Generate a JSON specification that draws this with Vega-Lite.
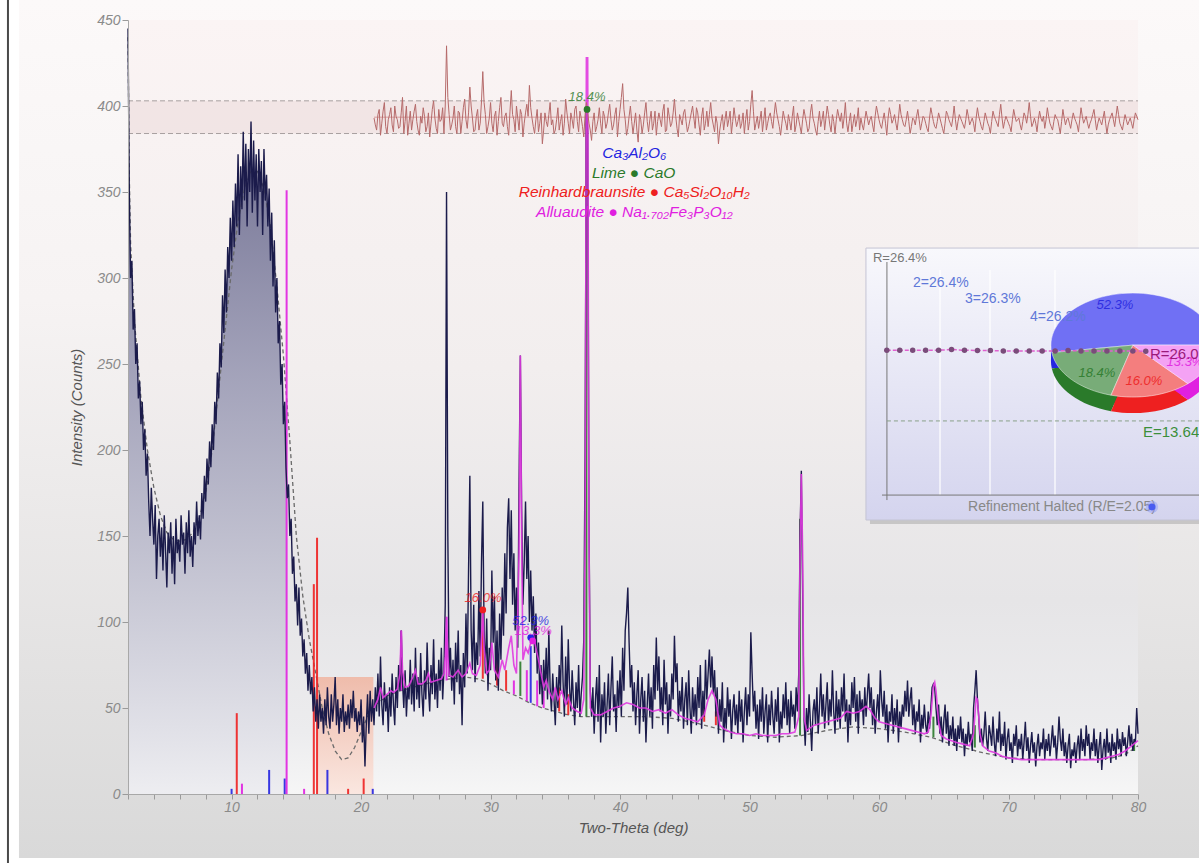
{
"$schema":"https://vega.github.io/schema/vega-lite/v6.json",
"width":1010,"height":774,
"autosize":{"type":"none"},
"padding":{"left":128,"top":20,"right":61,"bottom":69},
"background":"#ffffff",
"config":{"view":{"stroke":null},"font":"Liberation Sans","axis":{"grid":false}},
"datasets":{
"obs":[
{"t":2.0,"i":445},{"t":2.1,"i":350},{"t":2.2,"i":300},{"t":2.3,"i":310},{"t":2.4,"i":270},{"t":2.5,"i":282},{"t":2.6,"i":250},{"t":2.7,"i":262},{"t":2.8,"i":230},{"t":2.9,"i":240},
{"t":3.0,"i":215},{"t":3.1,"i":228},{"t":3.2,"i":200},{"t":3.3,"i":212},{"t":3.4,"i":185},{"t":3.5,"i":198},{"t":3.6,"i":170},{"t":3.7,"i":150},{"t":3.8,"i":178},{"t":3.9,"i":160},
{"t":4.0,"i":145},{"t":4.1,"i":168},{"t":4.2,"i":125},{"t":4.3,"i":150},{"t":4.4,"i":160},{"t":4.5,"i":138},{"t":4.6,"i":155},{"t":4.7,"i":130},{"t":4.8,"i":162},{"t":4.9,"i":142},
{"t":5.0,"i":120},{"t":5.1,"i":152},{"t":5.2,"i":140},{"t":5.3,"i":158},{"t":5.4,"i":128},{"t":5.5,"i":150},{"t":5.6,"i":122},{"t":5.7,"i":160},{"t":5.8,"i":140},{"t":5.9,"i":148},
{"t":6.0,"i":135},{"t":6.1,"i":162},{"t":6.2,"i":145},{"t":6.3,"i":152},{"t":6.4,"i":128},{"t":6.5,"i":158},{"t":6.6,"i":140},{"t":6.7,"i":165},{"t":6.8,"i":138},{"t":6.9,"i":150},
{"t":7.0,"i":132},{"t":7.1,"i":158},{"t":7.2,"i":145},{"t":7.3,"i":170},{"t":7.4,"i":150},{"t":7.5,"i":162},{"t":7.6,"i":148},{"t":7.7,"i":175},{"t":7.8,"i":160},{"t":7.9,"i":185},
{"t":8.0,"i":170},{"t":8.1,"i":195},{"t":8.2,"i":180},{"t":8.3,"i":205},{"t":8.4,"i":190},{"t":8.5,"i":215},{"t":8.6,"i":200},{"t":8.7,"i":228},{"t":8.8,"i":215},{"t":8.9,"i":245},
{"t":9.0,"i":230},{"t":9.1,"i":262},{"t":9.2,"i":248},{"t":9.3,"i":290},{"t":9.4,"i":268},{"t":9.5,"i":305},{"t":9.6,"i":280},{"t":9.7,"i":318},{"t":9.8,"i":300},{"t":9.9,"i":335},
{"t":10.0,"i":310},{"t":10.1,"i":345},{"t":10.2,"i":318},{"t":10.3,"i":355},{"t":10.4,"i":330},{"t":10.5,"i":372},{"t":10.6,"i":325},{"t":10.7,"i":365},{"t":10.8,"i":340},{"t":10.9,"i":385},
{"t":11.0,"i":345},{"t":11.1,"i":378},{"t":11.2,"i":330},{"t":11.3,"i":375},{"t":11.4,"i":350},{"t":11.5,"i":391},{"t":11.6,"i":338},{"t":11.7,"i":380},{"t":11.8,"i":345},{"t":11.9,"i":372},
{"t":12.0,"i":330},{"t":12.1,"i":375},{"t":12.2,"i":350},{"t":12.3,"i":368},{"t":12.4,"i":325},{"t":12.5,"i":375},{"t":12.6,"i":345},{"t":12.7,"i":360},{"t":12.8,"i":330},{"t":12.9,"i":352},
{"t":13.0,"i":310},{"t":13.1,"i":338},{"t":13.2,"i":295},{"t":13.3,"i":322},{"t":13.4,"i":280},{"t":13.5,"i":300},{"t":13.6,"i":262},{"t":13.7,"i":275},{"t":13.8,"i":238},{"t":13.9,"i":250},
{"t":14.0,"i":215},{"t":14.1,"i":228},{"t":14.2,"i":190},{"t":14.3,"i":172},{"t":14.4,"i":180},{"t":14.5,"i":150},{"t":14.6,"i":160},{"t":14.7,"i":128},{"t":14.8,"i":138},{"t":14.9,"i":112},
{"t":15.0,"i":122},{"t":15.1,"i":98},{"t":15.2,"i":120},{"t":15.3,"i":92},{"t":15.4,"i":102},{"t":15.5,"i":80},{"t":15.6,"i":90},{"t":15.7,"i":70},{"t":15.8,"i":82},{"t":15.9,"i":60},
{"t":16.0,"i":75},{"t":16.1,"i":58},{"t":16.2,"i":68},{"t":16.3,"i":48},{"t":16.4,"i":62},{"t":16.5,"i":42},{"t":16.6,"i":55},{"t":16.7,"i":38},{"t":16.8,"i":58},{"t":16.9,"i":42},
{"t":17.0,"i":50},{"t":17.1,"i":35},{"t":17.2,"i":55},{"t":17.3,"i":40},{"t":17.4,"i":62},{"t":17.5,"i":45},{"t":17.6,"i":38},{"t":17.7,"i":58},{"t":17.8,"i":42},{"t":17.9,"i":52},
{"t":18.0,"i":68},{"t":18.1,"i":40},{"t":18.2,"i":55},{"t":18.3,"i":35},{"t":18.4,"i":50},{"t":18.5,"i":42},{"t":18.6,"i":58},{"t":18.7,"i":36},{"t":18.8,"i":48},{"t":18.9,"i":40},
{"t":19.0,"i":52},{"t":19.1,"i":38},{"t":19.2,"i":55},{"t":19.3,"i":44},{"t":19.4,"i":60},{"t":19.5,"i":42},{"t":19.6,"i":50},{"t":19.7,"i":36},{"t":19.8,"i":48},{"t":19.9,"i":40},
{"t":20.0,"i":55},{"t":20.1,"i":30},{"t":20.2,"i":45},{"t":20.3,"i":16},{"t":20.4,"i":40},{"t":20.5,"i":58},{"t":20.6,"i":35},{"t":20.7,"i":60},{"t":20.8,"i":42},{"t":20.9,"i":55},
{"t":21.0,"i":40},{"t":21.1,"i":62},{"t":21.2,"i":48},{"t":21.3,"i":70},{"t":21.4,"i":45},{"t":21.5,"i":80},{"t":21.6,"i":52},{"t":21.7,"i":40},{"t":21.8,"i":65},{"t":21.9,"i":48},
{"t":22.0,"i":58},{"t":22.1,"i":36},{"t":22.2,"i":62},{"t":22.3,"i":45},{"t":22.4,"i":70},{"t":22.5,"i":52},{"t":22.6,"i":40},{"t":22.7,"i":68},{"t":22.8,"i":50},{"t":22.9,"i":75},
{"t":23.0,"i":60},{"t":23.1,"i":95},{"t":23.2,"i":65},{"t":23.3,"i":50},{"t":23.4,"i":72},{"t":23.5,"i":45},{"t":23.6,"i":62},{"t":23.7,"i":55},{"t":23.8,"i":78},{"t":23.9,"i":52},
{"t":24.0,"i":70},{"t":24.1,"i":48},{"t":24.2,"i":85},{"t":24.3,"i":55},{"t":24.4,"i":68},{"t":24.5,"i":50},{"t":24.6,"i":82},{"t":24.7,"i":58},{"t":24.8,"i":45},{"t":24.9,"i":72},
{"t":25.0,"i":55},{"t":25.1,"i":88},{"t":25.2,"i":62},{"t":25.3,"i":48},{"t":25.4,"i":75},{"t":25.5,"i":58},{"t":25.6,"i":90},{"t":25.7,"i":55},{"t":25.8,"i":70},{"t":25.9,"i":50},
{"t":26.0,"i":78},{"t":26.1,"i":60},{"t":26.2,"i":85},{"t":26.3,"i":55},{"t":26.4,"i":72},{"t":26.5,"i":110},{"t":26.6,"i":350},{"t":26.7,"i":150},{"t":26.8,"i":68},{"t":26.9,"i":85},
{"t":27.0,"i":60},{"t":27.1,"i":78},{"t":27.2,"i":52},{"t":27.3,"i":88},{"t":27.4,"i":65},{"t":27.5,"i":95},{"t":27.6,"i":58},{"t":27.7,"i":75},{"t":27.8,"i":40},{"t":27.9,"i":82},
{"t":28.0,"i":62},{"t":28.1,"i":105},{"t":28.2,"i":70},{"t":28.3,"i":130},{"t":28.4,"i":185},{"t":28.5,"i":95},{"t":28.6,"i":72},{"t":28.7,"i":110},{"t":28.8,"i":65},{"t":28.9,"i":88},
{"t":29.0,"i":75},{"t":29.1,"i":118},{"t":29.2,"i":80},{"t":29.3,"i":135},{"t":29.4,"i":170},{"t":29.5,"i":95},{"t":29.6,"i":70},{"t":29.7,"i":102},{"t":29.8,"i":60},{"t":29.9,"i":85},
{"t":30.0,"i":72},{"t":30.1,"i":130},{"t":30.2,"i":88},{"t":30.3,"i":115},{"t":30.4,"i":66},{"t":30.5,"i":95},{"t":30.6,"i":60},{"t":30.7,"i":105},{"t":30.8,"i":78},{"t":30.9,"i":120},
{"t":31.0,"i":92},{"t":31.1,"i":140},{"t":31.2,"i":105},{"t":31.3,"i":155},{"t":31.4,"i":172},{"t":31.5,"i":125},{"t":31.6,"i":165},{"t":31.7,"i":110},{"t":31.8,"i":140},{"t":31.9,"i":95},
{"t":32.0,"i":120},{"t":32.1,"i":85},{"t":32.2,"i":180},{"t":32.3,"i":255},{"t":32.4,"i":165},{"t":32.5,"i":110},{"t":32.6,"i":135},{"t":32.7,"i":170},{"t":32.8,"i":125},{"t":32.9,"i":150},
{"t":33.0,"i":100},{"t":33.1,"i":130},{"t":33.2,"i":95},{"t":33.3,"i":115},{"t":33.4,"i":82},{"t":33.5,"i":105},{"t":33.6,"i":70},{"t":33.7,"i":88},{"t":33.8,"i":58},{"t":33.9,"i":75},
{"t":34.0,"i":52},{"t":34.1,"i":78},{"t":34.2,"i":60},{"t":34.3,"i":85},{"t":34.4,"i":55},{"t":34.5,"i":95},{"t":34.6,"i":62},{"t":34.7,"i":48},{"t":34.8,"i":70},{"t":34.9,"i":55},
{"t":35.0,"i":40},{"t":35.1,"i":68},{"t":35.2,"i":50},{"t":35.3,"i":75},{"t":35.4,"i":60},{"t":35.5,"i":98},{"t":35.6,"i":65},{"t":35.7,"i":45},{"t":35.8,"i":80},{"t":35.9,"i":52},
{"t":36.0,"i":90},{"t":36.1,"i":62},{"t":36.2,"i":48},{"t":36.3,"i":72},{"t":36.4,"i":55},{"t":36.5,"i":40},{"t":36.6,"i":65},{"t":36.7,"i":50},{"t":36.8,"i":75},{"t":36.9,"i":45},
{"t":37.0,"i":58},{"t":37.1,"i":68},{"t":37.2,"i":90},{"t":37.3,"i":200},{"t":37.4,"i":400},{"t":37.5,"i":385},{"t":37.6,"i":160},{"t":37.7,"i":60},{"t":37.8,"i":45},{"t":37.9,"i":62},
{"t":38.0,"i":35},{"t":38.1,"i":55},{"t":38.2,"i":68},{"t":38.3,"i":42},{"t":38.4,"i":75},{"t":38.5,"i":30},{"t":38.6,"i":58},{"t":38.7,"i":45},{"t":38.8,"i":65},{"t":38.9,"i":35},
{"t":39.0,"i":52},{"t":39.1,"i":70},{"t":39.2,"i":40},{"t":39.3,"i":62},{"t":39.4,"i":80},{"t":39.5,"i":48},{"t":39.6,"i":58},{"t":39.7,"i":36},{"t":39.8,"i":66},{"t":39.9,"i":50},
{"t":40.0,"i":72},{"t":40.1,"i":45},{"t":40.2,"i":85},{"t":40.3,"i":60},{"t":40.4,"i":95},{"t":40.5,"i":105},{"t":40.6,"i":120},{"t":40.7,"i":88},{"t":40.8,"i":62},{"t":40.9,"i":75},
{"t":41.0,"i":48},{"t":41.1,"i":65},{"t":41.2,"i":40},{"t":41.3,"i":58},{"t":41.4,"i":72},{"t":41.5,"i":35},{"t":41.6,"i":55},{"t":41.7,"i":68},{"t":41.8,"i":42},{"t":41.9,"i":60},
{"t":42.0,"i":30},{"t":42.1,"i":52},{"t":42.2,"i":70},{"t":42.3,"i":45},{"t":42.4,"i":62},{"t":42.5,"i":38},{"t":42.6,"i":75},{"t":42.7,"i":55},{"t":42.8,"i":91},{"t":42.9,"i":60},
{"t":43.0,"i":80},{"t":43.1,"i":48},{"t":43.2,"i":62},{"t":43.3,"i":40},{"t":43.4,"i":78},{"t":43.5,"i":52},{"t":43.6,"i":65},{"t":43.7,"i":35},{"t":43.8,"i":58},{"t":43.9,"i":45},
{"t":44.0,"i":70},{"t":44.1,"i":55},{"t":44.2,"i":92},{"t":44.3,"i":65},{"t":44.4,"i":76},{"t":44.5,"i":42},{"t":44.6,"i":60},{"t":44.7,"i":48},{"t":44.8,"i":68},{"t":44.9,"i":38},
{"t":45.0,"i":55},{"t":45.1,"i":65},{"t":45.2,"i":40},{"t":45.3,"i":72},{"t":45.4,"i":50},{"t":45.5,"i":35},{"t":45.6,"i":62},{"t":45.7,"i":45},{"t":45.8,"i":58},{"t":45.9,"i":40},
{"t":46.0,"i":68},{"t":46.1,"i":50},{"t":46.2,"i":75},{"t":46.3,"i":38},{"t":46.4,"i":60},{"t":46.5,"i":45},{"t":46.6,"i":78},{"t":46.7,"i":55},{"t":46.8,"i":70},{"t":46.9,"i":84},
{"t":47.0,"i":62},{"t":47.1,"i":80},{"t":47.2,"i":58},{"t":47.3,"i":72},{"t":47.4,"i":45},{"t":47.5,"i":62},{"t":47.6,"i":35},{"t":47.7,"i":55},{"t":47.8,"i":42},{"t":47.9,"i":65},
{"t":48.0,"i":30},{"t":48.1,"i":50},{"t":48.2,"i":38},{"t":48.3,"i":62},{"t":48.4,"i":45},{"t":48.5,"i":55},{"t":48.6,"i":32},{"t":48.7,"i":48},{"t":48.8,"i":58},{"t":48.9,"i":40},
{"t":49.0,"i":52},{"t":49.1,"i":35},{"t":49.2,"i":60},{"t":49.3,"i":42},{"t":49.4,"i":55},{"t":49.5,"i":30},{"t":49.6,"i":48},{"t":49.7,"i":62},{"t":49.8,"i":40},{"t":49.9,"i":58},
{"t":50.0,"i":45},{"t":50.1,"i":94},{"t":50.2,"i":70},{"t":50.3,"i":48},{"t":50.4,"i":60},{"t":50.5,"i":38},{"t":50.6,"i":52},{"t":50.7,"i":32},{"t":50.8,"i":55},{"t":50.9,"i":42},
{"t":51.0,"i":62},{"t":51.1,"i":35},{"t":51.2,"i":48},{"t":51.3,"i":58},{"t":51.4,"i":30},{"t":51.5,"i":52},{"t":51.6,"i":40},{"t":51.7,"i":60},{"t":51.8,"i":45},{"t":51.9,"i":35},
{"t":52.0,"i":55},{"t":52.1,"i":42},{"t":52.2,"i":62},{"t":52.3,"i":30},{"t":52.4,"i":48},{"t":52.5,"i":38},{"t":52.6,"i":58},{"t":52.7,"i":44},{"t":52.8,"i":65},{"t":52.9,"i":40},
{"t":53.0,"i":55},{"t":53.1,"i":35},{"t":53.2,"i":60},{"t":53.3,"i":45},{"t":53.4,"i":52},{"t":53.5,"i":38},{"t":53.6,"i":62},{"t":53.7,"i":48},{"t":53.8,"i":70},{"t":53.9,"i":150},
{"t":54.0,"i":188},{"t":54.1,"i":120},{"t":54.2,"i":45},{"t":54.3,"i":28},{"t":54.4,"i":50},{"t":54.5,"i":36},{"t":54.6,"i":58},{"t":54.7,"i":42},{"t":54.8,"i":25},{"t":54.9,"i":48},
{"t":55.0,"i":55},{"t":55.1,"i":40},{"t":55.2,"i":62},{"t":55.3,"i":35},{"t":55.4,"i":50},{"t":55.5,"i":70},{"t":55.6,"i":45},{"t":55.7,"i":58},{"t":55.8,"i":38},{"t":55.9,"i":52},
{"t":56.0,"i":65},{"t":56.1,"i":40},{"t":56.2,"i":55},{"t":56.3,"i":45},{"t":56.4,"i":72},{"t":56.5,"i":48},{"t":56.6,"i":35},{"t":56.7,"i":60},{"t":56.8,"i":42},{"t":56.9,"i":55},
{"t":57.0,"i":38},{"t":57.1,"i":62},{"t":57.2,"i":48},{"t":57.3,"i":70},{"t":57.4,"i":42},{"t":57.5,"i":55},{"t":57.6,"i":30},{"t":57.7,"i":52},{"t":57.8,"i":40},{"t":57.9,"i":65},
{"t":58.0,"i":50},{"t":58.1,"i":68},{"t":58.2,"i":42},{"t":58.3,"i":58},{"t":58.4,"i":35},{"t":58.5,"i":60},{"t":58.6,"i":48},{"t":58.7,"i":55},{"t":58.8,"i":40},{"t":58.9,"i":62},
{"t":59.0,"i":45},{"t":59.1,"i":58},{"t":59.2,"i":70},{"t":59.3,"i":50},{"t":59.4,"i":62},{"t":59.5,"i":40},{"t":59.6,"i":55},{"t":59.7,"i":35},{"t":59.8,"i":48},{"t":59.9,"i":58},
{"t":60.0,"i":42},{"t":60.1,"i":72},{"t":60.2,"i":55},{"t":60.3,"i":45},{"t":60.4,"i":60},{"t":60.5,"i":38},{"t":60.6,"i":52},{"t":60.7,"i":30},{"t":60.8,"i":48},{"t":60.9,"i":42},
{"t":61.0,"i":58},{"t":61.1,"i":35},{"t":61.2,"i":50},{"t":61.3,"i":40},{"t":61.4,"i":55},{"t":61.5,"i":30},{"t":61.6,"i":48},{"t":61.7,"i":38},{"t":61.8,"i":52},{"t":61.9,"i":45},
{"t":62.0,"i":60},{"t":62.1,"i":48},{"t":62.2,"i":66},{"t":62.3,"i":45},{"t":62.4,"i":55},{"t":62.5,"i":62},{"t":62.6,"i":40},{"t":62.7,"i":52},{"t":62.8,"i":35},{"t":62.9,"i":48},
{"t":63.0,"i":42},{"t":63.1,"i":55},{"t":63.2,"i":30},{"t":63.3,"i":46},{"t":63.4,"i":38},{"t":63.5,"i":52},{"t":63.6,"i":40},{"t":63.7,"i":35},{"t":63.8,"i":48},{"t":63.9,"i":38},
{"t":64.0,"i":50},{"t":64.1,"i":62},{"t":64.2,"i":64},{"t":64.3,"i":62},{"t":64.4,"i":50},{"t":64.5,"i":40},{"t":64.6,"i":52},{"t":64.7,"i":35},{"t":64.8,"i":45},{"t":64.9,"i":30},
{"t":65.0,"i":42},{"t":65.1,"i":52},{"t":65.2,"i":35},{"t":65.3,"i":48},{"t":65.4,"i":28},{"t":65.5,"i":40},{"t":65.6,"i":32},{"t":65.7,"i":45},{"t":65.8,"i":28},{"t":65.9,"i":38},
{"t":66.0,"i":25},{"t":66.1,"i":40},{"t":66.2,"i":32},{"t":66.3,"i":45},{"t":66.4,"i":30},{"t":66.5,"i":38},{"t":66.6,"i":22},{"t":66.7,"i":35},{"t":66.8,"i":28},{"t":66.9,"i":42},
{"t":67.0,"i":30},{"t":67.1,"i":35},{"t":67.2,"i":25},{"t":67.3,"i":50},{"t":67.4,"i":60},{"t":67.5,"i":72},{"t":67.6,"i":55},{"t":67.7,"i":45},{"t":67.8,"i":30},{"t":67.9,"i":38},
{"t":68.0,"i":28},{"t":68.1,"i":35},{"t":68.2,"i":48},{"t":68.3,"i":32},{"t":68.4,"i":25},{"t":68.5,"i":40},{"t":68.6,"i":35},{"t":68.7,"i":28},{"t":68.8,"i":45},{"t":68.9,"i":30},
{"t":69.0,"i":22},{"t":69.1,"i":38},{"t":69.2,"i":30},{"t":69.3,"i":48},{"t":69.4,"i":25},{"t":69.5,"i":35},{"t":69.6,"i":28},{"t":69.7,"i":42},{"t":69.8,"i":20},{"t":69.9,"i":32},
{"t":70.0,"i":38},{"t":70.1,"i":25},{"t":70.2,"i":30},{"t":70.3,"i":18},{"t":70.4,"i":35},{"t":70.5,"i":28},{"t":70.6,"i":40},{"t":70.7,"i":22},{"t":70.8,"i":32},{"t":70.9,"i":26},
{"t":71.0,"i":35},{"t":71.1,"i":20},{"t":71.2,"i":30},{"t":71.3,"i":42},{"t":71.4,"i":25},{"t":71.5,"i":33},{"t":71.6,"i":18},{"t":71.7,"i":28},{"t":71.8,"i":36},{"t":71.9,"i":24},
{"t":72.0,"i":30},{"t":72.1,"i":16},{"t":72.2,"i":28},{"t":72.3,"i":35},{"t":72.4,"i":22},{"t":72.5,"i":30},{"t":72.6,"i":26},{"t":72.7,"i":38},{"t":72.8,"i":20},{"t":72.9,"i":32},
{"t":73.0,"i":25},{"t":73.1,"i":35},{"t":73.2,"i":22},{"t":73.3,"i":30},{"t":73.4,"i":40},{"t":73.5,"i":27},{"t":73.6,"i":34},{"t":73.7,"i":20},{"t":73.8,"i":30},{"t":73.9,"i":45},
{"t":74.0,"i":32},{"t":74.1,"i":25},{"t":74.2,"i":38},{"t":74.3,"i":22},{"t":74.4,"i":30},{"t":74.5,"i":18},{"t":74.6,"i":28},{"t":74.7,"i":35},{"t":74.8,"i":15},{"t":74.9,"i":26},
{"t":75.0,"i":22},{"t":75.1,"i":30},{"t":75.2,"i":18},{"t":75.3,"i":28},{"t":75.4,"i":34},{"t":75.5,"i":20},{"t":75.6,"i":38},{"t":75.7,"i":25},{"t":75.8,"i":32},{"t":75.9,"i":22},
{"t":76.0,"i":40},{"t":76.1,"i":28},{"t":76.2,"i":35},{"t":76.3,"i":20},{"t":76.4,"i":30},{"t":76.5,"i":25},{"t":76.6,"i":38},{"t":76.7,"i":22},{"t":76.8,"i":32},{"t":76.9,"i":18},
{"t":77.0,"i":28},{"t":77.1,"i":36},{"t":77.2,"i":14},{"t":77.3,"i":26},{"t":77.4,"i":32},{"t":77.5,"i":20},{"t":77.6,"i":38},{"t":77.7,"i":24},{"t":77.8,"i":30},{"t":77.9,"i":18},
{"t":78.0,"i":35},{"t":78.1,"i":25},{"t":78.2,"i":30},{"t":78.3,"i":20},{"t":78.4,"i":38},{"t":78.5,"i":26},{"t":78.6,"i":32},{"t":78.7,"i":22},{"t":78.8,"i":36},{"t":78.9,"i":28},
{"t":79.0,"i":33},{"t":79.1,"i":22},{"t":79.2,"i":30},{"t":79.3,"i":40},{"t":79.4,"i":28},{"t":79.5,"i":35},{"t":79.6,"i":25},{"t":79.7,"i":32},{"t":79.8,"i":30},{"t":79.9,"i":50},
{"t":80.0,"i":35}
],
"calc":[
{"t":21.0,"i":50},{"t":21.3,"i":55},{"t":21.5,"i":62},{"t":21.7,"i":56},{"t":22.0,"i":58},{"t":22.3,"i":60},{"t":22.5,"i":59},{"t":22.8,"i":61},{"t":23.0,"i":70},{"t":23.1,"i":95},{"t":23.2,"i":72},{"t":23.4,"i":62},{"t":23.7,"i":63},{"t":24.0,"i":68},{"t":24.2,"i":72},{"t":24.4,"i":64},{"t":24.7,"i":64},{"t":25.0,"i":66},{"t":25.2,"i":70},{"t":25.4,"i":65},{"t":25.8,"i":66},{"t":26.2,"i":67},{"t":26.4,"i":70},{"t":26.5,"i":80},{"t":26.6,"i":103},{"t":26.7,"i":80},{"t":26.8,"i":69},{"t":27.1,"i":68},{"t":27.5,"i":72},{"t":27.8,"i":68},{"t":28.1,"i":70},{"t":28.4,"i":76},{"t":28.6,"i":70},{"t":28.9,"i":69},{"t":29.2,"i":75},{"t":29.4,"i":107},{"t":29.5,"i":85},{"t":29.7,"i":70},{"t":29.9,"i":72},{"t":30.1,"i":88},{"t":30.3,"i":72},{"t":30.6,"i":68},{"t":30.9,"i":78},{"t":31.1,"i":72},{"t":31.4,"i":85},{"t":31.6,"i":92},{"t":31.8,"i":75},{"t":32.0,"i":70},{"t":32.2,"i":140},{"t":32.3,"i":255},{"t":32.4,"i":150},{"t":32.5,"i":78},{"t":32.7,"i":85},{"t":32.9,"i":82},{"t":33.1,"i":88},{"t":33.3,"i":93},{"t":33.5,"i":85},{"t":33.7,"i":78},{"t":33.9,"i":70},{"t":34.1,"i":62},{"t":34.3,"i":66},{"t":34.5,"i":60},{"t":34.8,"i":55},{"t":35.0,"i":62},{"t":35.2,"i":55},{"t":35.5,"i":60},{"t":35.8,"i":52},{"t":36.0,"i":56},{"t":36.3,"i":50},{"t":36.7,"i":48},{"t":37.0,"i":47},{"t":37.2,"i":55},{"t":37.3,"i":150},{"t":37.4,"i":428},{"t":37.5,"i":428},{"t":37.6,"i":150},{"t":37.7,"i":50},{"t":38.0,"i":46},{"t":38.5,"i":46},{"t":39.0,"i":48},{"t":39.5,"i":50},{"t":40.0,"i":51},{"t":40.5,"i":53},{"t":41.0,"i":52},{"t":41.5,"i":50},{"t":42.0,"i":50},{"t":42.5,"i":48},{"t":43.0,"i":49},{"t":43.5,"i":47},{"t":44.0,"i":49},{"t":44.5,"i":46},{"t":45.0,"i":44},{"t":45.5,"i":43},{"t":46.0,"i":42},{"t":46.5,"i":46},{"t":46.8,"i":55},{"t":47.1,"i":60},{"t":47.4,"i":55},{"t":47.7,"i":40},{"t":48.0,"i":38},{"t":48.5,"i":36},{"t":49.0,"i":35},{"t":49.5,"i":35},{"t":50.0,"i":34},{"t":50.5,"i":35},{"t":51.0,"i":34},{"t":51.5,"i":34},{"t":52.0,"i":34},{"t":52.5,"i":35},{"t":53.0,"i":35},{"t":53.5,"i":36},{"t":53.8,"i":45},{"t":53.9,"i":140},{"t":54.0,"i":186},{"t":54.1,"i":140},{"t":54.2,"i":45},{"t":54.4,"i":37},{"t":55.0,"i":40},{"t":55.5,"i":41},{"t":56.0,"i":42},{"t":56.5,"i":43},{"t":57.0,"i":44},{"t":57.5,"i":48},{"t":58.0,"i":47},{"t":58.5,"i":48},{"t":59.0,"i":51},{"t":59.3,"i":49},{"t":59.7,"i":44},{"t":60.0,"i":42},{"t":60.5,"i":41},{"t":61.0,"i":40},{"t":61.5,"i":39},{"t":62.0,"i":38},{"t":62.5,"i":37},{"t":63.0,"i":36},{"t":63.5,"i":35},{"t":63.8,"i":36},{"t":64.0,"i":45},{"t":64.2,"i":63},{"t":64.3,"i":65},{"t":64.4,"i":60},{"t":64.6,"i":42},{"t":64.8,"i":34},{"t":65.2,"i":32},{"t":65.6,"i":31},{"t":66.0,"i":30},{"t":66.5,"i":29},{"t":67.0,"i":28},{"t":67.3,"i":35},{"t":67.5,"i":56},{"t":67.6,"i":55},{"t":67.8,"i":35},{"t":68.0,"i":28},{"t":68.5,"i":25},{"t":69.0,"i":24},{"t":69.5,"i":22},{"t":70.0,"i":21},{"t":71.0,"i":20},{"t":72.0,"i":20},{"t":73.0,"i":20},{"t":74.0,"i":20},{"t":75.0,"i":20},{"t":76.0,"i":20},{"t":77.0,"i":20},{"t":77.5,"i":21},{"t":78.0,"i":22},{"t":78.5,"i":23},{"t":79.0,"i":25},{"t":79.5,"i":28},{"t":80.0,"i":31}
],
"bg":[
{"t":2.0,"i":440},{"t":2.1,"i":360},{"t":2.2,"i":320},{"t":2.5,"i":275},{"t":3.0,"i":230},{"t":3.5,"i":200},{"t":4.0,"i":178},{"t":4.5,"i":162},{"t":5.0,"i":152},{"t":5.5,"i":148},{"t":6.0,"i":147},{"t":6.5,"i":148},{"t":7.0,"i":152},{"t":7.5,"i":160},{"t":8.0,"i":175},{"t":8.5,"i":200},{"t":9.0,"i":235},{"t":9.5,"i":270},{"t":10.0,"i":305},{"t":10.5,"i":333},{"t":11.0,"i":352},{"t":11.5,"i":362},{"t":12.0,"i":362},{"t":12.5,"i":352},{"t":13.0,"i":330},{"t":13.5,"i":295},{"t":14.0,"i":255},{"t":14.5,"i":205},{"t":15.0,"i":150},{"t":15.5,"i":115},{"t":16.0,"i":90},{"t":16.5,"i":70},{"t":17.0,"i":50},{"t":17.5,"i":35},{"t":18.0,"i":25},{"t":18.5,"i":20},{"t":19.0,"i":21},{"t":19.5,"i":27},{"t":20.0,"i":36},{"t":20.5,"i":45},{"t":21.0,"i":51},{"t":22.0,"i":57},{"t":23.0,"i":60},{"t":24.0,"i":62},{"t":25.0,"i":64},{"t":26.0,"i":66},{"t":27.0,"i":67},{"t":28.0,"i":68},{"t":29.0,"i":67},{"t":30.0,"i":64},{"t":31.0,"i":60},{"t":32.0,"i":57},{"t":33.0,"i":53},{"t":34.0,"i":50},{"t":35.0,"i":48},{"t":36.0,"i":46},{"t":37.0,"i":45},{"t":38.0,"i":45},{"t":40.0,"i":45},{"t":42.0,"i":45},{"t":44.0,"i":44},{"t":46.0,"i":41},{"t":48.0,"i":37},{"t":50.0,"i":34},{"t":52.0,"i":33},{"t":54.0,"i":34},{"t":56.0,"i":37},{"t":58.0,"i":39},{"t":60.0,"i":38},{"t":62.0,"i":36},{"t":64.0,"i":33},{"t":66.0,"i":28},{"t":68.0,"i":24},{"t":70.0,"i":21},{"t":72.0,"i":20},{"t":74.0,"i":20},{"t":76.0,"i":20},{"t":78.0,"i":21},{"t":79.0,"i":23},{"t":80.0,"i":28}
],
"diff":[
{"t":21.0,"i":393},{"t":21.2,"i":386},{"t":21.4,"i":398},{"t":21.6,"i":390},{"t":21.8,"i":402},{"t":22.0,"i":384},{"t":22.2,"i":395},{"t":22.4,"i":389},{"t":22.6,"i":400},{"t":22.8,"i":392},
{"t":23.0,"i":388},{"t":23.2,"i":405},{"t":23.4,"i":391},{"t":23.6,"i":383},{"t":23.8,"i":397},{"t":24.0,"i":392},{"t":24.2,"i":401},{"t":24.4,"i":386},{"t":24.6,"i":394},{"t":24.8,"i":399},
{"t":25.0,"i":385},{"t":25.2,"i":396},{"t":25.4,"i":390},{"t":25.6,"i":403},{"t":25.8,"i":387},{"t":26.0,"i":398},{"t":26.2,"i":392},{"t":26.4,"i":384},{"t":26.6,"i":435},{"t":26.8,"i":395},
{"t":27.0,"i":389},{"t":27.2,"i":400},{"t":27.4,"i":384},{"t":27.6,"i":396},{"t":27.8,"i":391},{"t":28.0,"i":404},{"t":28.2,"i":387},{"t":28.4,"i":411},{"t":28.6,"i":393},{"t":28.8,"i":386},
{"t":29.0,"i":398},{"t":29.2,"i":390},{"t":29.4,"i":420},{"t":29.6,"i":395},{"t":29.8,"i":388},{"t":30.0,"i":402},{"t":30.2,"i":385},{"t":30.4,"i":397},{"t":30.6,"i":391},{"t":30.8,"i":405},
{"t":31.0,"i":388},{"t":31.2,"i":396},{"t":31.4,"i":383},{"t":31.6,"i":409},{"t":31.8,"i":392},{"t":32.0,"i":400},{"t":32.2,"i":386},{"t":32.4,"i":395},{"t":32.6,"i":390},{"t":32.8,"i":401},
{"t":33.0,"i":412},{"t":33.2,"i":393},{"t":33.4,"i":384},{"t":33.6,"i":398},{"t":33.8,"i":390},{"t":34.0,"i":378},{"t":34.2,"i":396},{"t":34.4,"i":388},{"t":34.6,"i":402},{"t":34.8,"i":392},
{"t":35.0,"i":386},{"t":35.2,"i":399},{"t":35.4,"i":391},{"t":35.6,"i":383},{"t":35.8,"i":404},{"t":36.0,"i":390},{"t":36.2,"i":396},{"t":36.4,"i":387},{"t":36.6,"i":400},{"t":36.8,"i":385},
{"t":37.0,"i":393},{"t":37.2,"i":382},{"t":37.4,"i":402},{"t":37.6,"i":390},{"t":37.8,"i":380},{"t":38.0,"i":396},{"t":38.2,"i":388},{"t":38.4,"i":399},{"t":38.6,"i":384},{"t":38.8,"i":394},
{"t":39.0,"i":390},{"t":39.2,"i":401},{"t":39.4,"i":386},{"t":39.6,"i":395},{"t":39.8,"i":382},{"t":40.0,"i":398},{"t":40.2,"i":413},{"t":40.4,"i":392},{"t":40.6,"i":387},{"t":40.8,"i":400},
{"t":41.0,"i":384},{"t":41.2,"i":396},{"t":41.4,"i":379},{"t":41.6,"i":392},{"t":41.8,"i":389},{"t":42.0,"i":402},{"t":42.2,"i":385},{"t":42.4,"i":397},{"t":42.6,"i":390},{"t":42.8,"i":383},
{"t":43.0,"i":396},{"t":43.2,"i":388},{"t":43.4,"i":401},{"t":43.6,"i":386},{"t":43.8,"i":394},{"t":44.0,"i":390},{"t":44.2,"i":404},{"t":44.4,"i":387},{"t":44.6,"i":395},{"t":44.8,"i":389},
{"t":45.0,"i":398},{"t":45.2,"i":385},{"t":45.4,"i":392},{"t":45.6,"i":400},{"t":45.8,"i":387},{"t":46.0,"i":396},{"t":46.2,"i":383},{"t":46.4,"i":399},{"t":46.6,"i":390},{"t":46.8,"i":388},
{"t":47.0,"i":402},{"t":47.2,"i":389},{"t":47.4,"i":394},{"t":47.6,"i":378},{"t":47.8,"i":391},{"t":48.0,"i":386},{"t":48.2,"i":397},{"t":48.4,"i":392},{"t":48.6,"i":384},{"t":48.8,"i":399},
{"t":49.0,"i":388},{"t":49.2,"i":395},{"t":49.4,"i":390},{"t":49.6,"i":384},{"t":49.8,"i":398},{"t":50.0,"i":391},{"t":50.2,"i":409},{"t":50.4,"i":386},{"t":50.6,"i":394},{"t":50.8,"i":392},
{"t":51.0,"i":385},{"t":51.2,"i":399},{"t":51.4,"i":390},{"t":51.6,"i":396},{"t":51.8,"i":387},{"t":52.0,"i":402},{"t":52.2,"i":392},{"t":52.4,"i":383},{"t":52.6,"i":397},{"t":52.8,"i":390},
{"t":53.0,"i":395},{"t":53.2,"i":386},{"t":53.4,"i":400},{"t":53.6,"i":389},{"t":53.8,"i":392},{"t":54.0,"i":384},{"t":54.2,"i":398},{"t":54.4,"i":390},{"t":54.6,"i":387},{"t":54.8,"i":401},
{"t":55.0,"i":390},{"t":55.2,"i":383},{"t":55.4,"i":397},{"t":55.6,"i":392},{"t":55.8,"i":386},{"t":56.0,"i":400},{"t":56.2,"i":389},{"t":56.4,"i":395},{"t":56.6,"i":384},{"t":56.8,"i":398},
{"t":57.0,"i":391},{"t":57.2,"i":387},{"t":57.4,"i":402},{"t":57.6,"i":385},{"t":57.8,"i":396},{"t":58.0,"i":390},{"t":58.2,"i":388},{"t":58.4,"i":399},{"t":58.6,"i":393},{"t":58.8,"i":386},
{"t":59.0,"i":397},{"t":59.2,"i":389},{"t":59.4,"i":394},{"t":59.6,"i":385},{"t":59.8,"i":400},{"t":60.0,"i":392},{"t":60.2,"i":387},{"t":60.4,"i":396},{"t":60.6,"i":383},{"t":60.8,"i":399},
{"t":61.0,"i":390},{"t":61.2,"i":395},{"t":61.4,"i":386},{"t":61.6,"i":401},{"t":61.8,"i":392},{"t":62.0,"i":388},{"t":62.2,"i":397},{"t":62.4,"i":384},{"t":62.6,"i":393},{"t":62.8,"i":389},
{"t":63.0,"i":398},{"t":63.2,"i":386},{"t":63.4,"i":394},{"t":63.6,"i":390},{"t":63.8,"i":385},{"t":64.0,"i":399},{"t":64.2,"i":391},{"t":64.4,"i":387},{"t":64.6,"i":396},{"t":64.8,"i":390},
{"t":65.0,"i":384},{"t":65.2,"i":397},{"t":65.4,"i":392},{"t":65.6,"i":388},{"t":65.8,"i":400},{"t":66.0,"i":386},{"t":66.2,"i":395},{"t":66.4,"i":391},{"t":66.6,"i":387},{"t":66.8,"i":398},
{"t":67.0,"i":389},{"t":67.2,"i":393},{"t":67.4,"i":385},{"t":67.6,"i":399},{"t":67.8,"i":391},{"t":68.0,"i":386},{"t":68.2,"i":396},{"t":68.4,"i":390},{"t":68.6,"i":384},{"t":68.8,"i":397},
{"t":69.0,"i":392},{"t":69.2,"i":388},{"t":69.4,"i":401},{"t":69.6,"i":387},{"t":69.8,"i":394},{"t":70.0,"i":390},{"t":70.2,"i":385},{"t":70.4,"i":398},{"t":70.6,"i":391},{"t":70.8,"i":393},
{"t":71.0,"i":386},{"t":71.2,"i":396},{"t":71.4,"i":390},{"t":71.6,"i":402},{"t":71.8,"i":388},{"t":72.0,"i":393},{"t":72.2,"i":385},{"t":72.4,"i":397},{"t":72.6,"i":391},{"t":72.8,"i":387},
{"t":73.0,"i":399},{"t":73.2,"i":390},{"t":73.4,"i":386},{"t":73.6,"i":395},{"t":73.8,"i":392},{"t":74.0,"i":384},{"t":74.2,"i":398},{"t":74.4,"i":389},{"t":74.6,"i":393},{"t":74.8,"i":387},
{"t":75.0,"i":396},{"t":75.2,"i":391},{"t":75.4,"i":385},{"t":75.6,"i":399},{"t":75.8,"i":390},{"t":76.0,"i":394},{"t":76.2,"i":387},{"t":76.4,"i":392},{"t":76.6,"i":398},{"t":76.8,"i":386},
{"t":77.0,"i":393},{"t":77.2,"i":389},{"t":77.4,"i":397},{"t":77.6,"i":384},{"t":77.8,"i":392},{"t":78.0,"i":396},{"t":78.2,"i":388},{"t":78.4,"i":400},{"t":78.6,"i":390},{"t":78.8,"i":386},
{"t":79.0,"i":395},{"t":79.2,"i":389},{"t":79.4,"i":393},{"t":79.6,"i":387},{"t":79.8,"i":396},{"t":80.0,"i":392},
{"t":21.1,"i":389},{"t":21.3,"i":395},{"t":21.5,"i":383},{"t":21.7,"i":397},{"t":21.9,"i":388},{"t":22.1,"i":392},{"t":22.3,"i":399},{"t":22.5,"i":385},{"t":22.7,"i":394},{"t":22.9,"i":387},
{"t":23.1,"i":396},{"t":23.3,"i":384},{"t":23.5,"i":400},{"t":23.7,"i":390},{"t":23.9,"i":386},{"t":24.1,"i":397},{"t":24.3,"i":391},{"t":24.5,"i":383},{"t":24.7,"i":390},{"t":24.9,"i":394},
{"t":25.1,"i":388},{"t":25.3,"i":382},{"t":25.5,"i":398},{"t":25.7,"i":393},{"t":25.9,"i":384},{"t":26.1,"i":391},{"t":26.3,"i":399},{"t":26.5,"i":400},{"t":26.7,"i":405},{"t":26.9,"i":386},
{"t":27.1,"i":393},{"t":27.3,"i":388},{"t":27.5,"i":397},{"t":27.7,"i":384},{"t":27.9,"i":399},{"t":28.1,"i":392},{"t":28.3,"i":396},{"t":28.5,"i":400},{"t":28.7,"i":385},{"t":28.9,"i":394},
{"t":29.1,"i":386},{"t":29.3,"i":403},{"t":29.5,"i":402},{"t":29.7,"i":384},{"t":29.9,"i":393},{"t":30.1,"i":390},{"t":30.3,"i":394},{"t":30.5,"i":383},{"t":30.7,"i":399},{"t":30.9,"i":390},
{"t":31.1,"i":394},{"t":31.3,"i":388},{"t":31.5,"i":397},{"t":31.7,"i":395},{"t":31.9,"i":385},{"t":32.1,"i":393},{"t":32.3,"i":398},{"t":32.5,"i":382},{"t":32.7,"i":396},{"t":32.9,"i":394},
{"t":33.1,"i":399},{"t":33.3,"i":388},{"t":33.5,"i":392},{"t":33.7,"i":385},{"t":33.9,"i":396},{"t":34.1,"i":386},{"t":34.3,"i":391},{"t":34.5,"i":395},{"t":34.7,"i":389},{"t":34.9,"i":384},
{"t":35.1,"i":392},{"t":35.3,"i":386},{"t":35.5,"i":395},{"t":35.7,"i":390},{"t":35.9,"i":396},{"t":36.1,"i":384},{"t":36.3,"i":392},{"t":36.5,"i":398},{"t":36.7,"i":391},{"t":36.9,"i":397},
{"t":37.1,"i":388},{"t":37.3,"i":395},{"t":37.5,"i":396},{"t":37.7,"i":386},{"t":37.9,"i":391},{"t":38.1,"i":385},{"t":38.3,"i":392},{"t":38.5,"i":390},{"t":38.7,"i":397},{"t":38.9,"i":387},
{"t":39.1,"i":396},{"t":39.3,"i":392},{"t":39.5,"i":389},{"t":39.7,"i":399},{"t":39.9,"i":391},{"t":40.1,"i":405},{"t":40.3,"i":398},{"t":40.5,"i":383},{"t":40.7,"i":394},{"t":40.9,"i":391},
{"t":41.1,"i":390},{"t":41.3,"i":386},{"t":41.5,"i":395},{"t":41.7,"i":384},{"t":41.9,"i":396},{"t":42.1,"i":391},{"t":42.3,"i":392},{"t":42.5,"i":386},{"t":42.7,"i":397},{"t":42.9,"i":391},
{"t":43.1,"i":392},{"t":43.3,"i":397},{"t":43.5,"i":385},{"t":43.7,"i":399},{"t":43.9,"i":388},{"t":44.1,"i":396},{"t":44.3,"i":394},{"t":44.5,"i":382},{"t":44.7,"i":392},{"t":44.9,"i":396},
{"t":45.1,"i":391},{"t":45.3,"i":388},{"t":45.5,"i":396},{"t":45.7,"i":393},{"t":45.9,"i":399},{"t":46.1,"i":389},{"t":46.3,"i":394},{"t":46.5,"i":386},{"t":46.7,"i":397},{"t":46.9,"i":395},
{"t":47.1,"i":393},{"t":47.3,"i":385},{"t":47.5,"i":390},{"t":47.7,"i":386},{"t":47.9,"i":395},{"t":48.1,"i":392},{"t":48.3,"i":388},{"t":48.5,"i":397},{"t":48.7,"i":391},{"t":48.9,"i":393},
{"t":49.1,"i":391},{"t":49.3,"i":387},{"t":49.5,"i":396},{"t":49.7,"i":392},{"t":49.9,"i":386},{"t":50.1,"i":401},{"t":50.3,"i":397},{"t":50.5,"i":390},{"t":50.7,"i":387},{"t":50.9,"i":397},
{"t":51.1,"i":392},{"t":51.3,"i":386},{"t":51.5,"i":394},{"t":51.7,"i":391},{"t":51.9,"i":395},{"t":52.1,"i":396},{"t":52.3,"i":388},{"t":52.5,"i":390},{"t":52.7,"i":393},{"t":52.9,"i":386},
{"t":53.1,"i":391},{"t":53.3,"i":394},{"t":53.5,"i":385},{"t":53.7,"i":396},{"t":53.9,"i":388},{"t":54.1,"i":392},{"t":54.3,"i":394},{"t":54.5,"i":385},{"t":54.7,"i":396},{"t":54.9,"i":393},
{"t":55.1,"i":386},{"t":55.3,"i":391},{"t":55.5,"i":388},{"t":55.7,"i":397},{"t":55.9,"i":393},{"t":56.1,"i":395},{"t":56.3,"i":385},{"t":56.5,"i":391},{"t":56.7,"i":392},{"t":56.9,"i":394},
{"t":57.1,"i":396},{"t":57.3,"i":393},{"t":57.5,"i":390},{"t":57.7,"i":391},{"t":57.9,"i":385},{"t":58.1,"i":395},{"t":58.3,"i":392},{"t":58.5,"i":386},{"t":58.7,"i":389},{"t":58.9,"i":392},
{"t":59.1,"i":393},{"t":59.3,"i":392},{"t":59.5,"i":389},{"t":59.7,"i":394},{"t":59.9,"i":396},{"t":60.1,"i":389},{"t":60.3,"i":392},{"t":60.5,"i":390},{"t":60.7,"i":393},{"t":60.9,"i":395},
{"t":61.1,"i":392},{"t":61.3,"i":390},{"t":61.5,"i":393},{"t":61.7,"i":395},{"t":61.9,"i":389},{"t":62.1,"i":392},{"t":62.3,"i":391},{"t":62.5,"i":388},{"t":62.7,"i":392},{"t":62.9,"i":394},
{"t":63.1,"i":392},{"t":63.3,"i":390},{"t":63.5,"i":393},{"t":63.7,"i":387},{"t":63.9,"i":393},{"t":64.1,"i":395},{"t":64.3,"i":388},{"t":64.5,"i":391},{"t":64.7,"i":393},{"t":64.9,"i":387},
{"t":65.1,"i":390},{"t":65.3,"i":395},{"t":65.5,"i":390},{"t":65.7,"i":393},{"t":65.9,"i":392},{"t":66.1,"i":391},{"t":66.3,"i":393},{"t":66.5,"i":389},{"t":66.7,"i":392},{"t":66.9,"i":394},
{"t":67.1,"i":391},{"t":67.3,"i":390},{"t":67.5,"i":393},{"t":67.7,"i":394},{"t":67.9,"i":388},{"t":68.1,"i":391},{"t":68.3,"i":393},{"t":68.5,"i":388},{"t":68.7,"i":391},{"t":68.9,"i":394},
{"t":69.1,"i":390},{"t":69.3,"i":395},{"t":69.5,"i":393},{"t":69.7,"i":391},{"t":69.9,"i":392},{"t":70.1,"i":388},{"t":70.3,"i":392},{"t":70.5,"i":394},{"t":70.7,"i":392},{"t":70.9,"i":389},
{"t":71.1,"i":391},{"t":71.3,"i":394},{"t":71.5,"i":395},{"t":71.7,"i":394},{"t":71.9,"i":390},{"t":72.1,"i":390},{"t":72.3,"i":392},{"t":72.5,"i":393},{"t":72.7,"i":394},{"t":72.9,"i":392},
{"t":73.1,"i":394},{"t":73.3,"i":388},{"t":73.5,"i":391},{"t":73.7,"i":393},{"t":73.9,"i":388},{"t":74.1,"i":391},{"t":74.3,"i":393},{"t":74.5,"i":392},{"t":74.7,"i":390},{"t":74.9,"i":392},
{"t":75.1,"i":393},{"t":75.3,"i":389},{"t":75.5,"i":392},{"t":75.7,"i":394},{"t":75.9,"i":392},{"t":76.1,"i":390},{"t":76.3,"i":390},{"t":76.5,"i":395},{"t":76.7,"i":392},{"t":76.9,"i":390},
{"t":77.1,"i":391},{"t":77.3,"i":393},{"t":77.5,"i":390},{"t":77.7,"i":389},{"t":77.9,"i":394},{"t":78.1,"i":392},{"t":78.3,"i":394},{"t":78.5,"i":395},{"t":78.7,"i":388},{"t":78.9,"i":391},
{"t":79.1,"i":392},{"t":79.3,"i":391},{"t":79.5,"i":390},{"t":79.7,"i":392},{"t":79.9,"i":394}
],
"sticks":[
{"phase":"C3A","t":10.0,"i":3,"b":0},{"phase":"Rein","t":10.4,"i":47,"b":0},{"phase":"Allu","t":10.8,"i":6,"b":0},{"phase":"C3A","t":12.9,"i":14,"b":0},{"phase":"C3A","t":14.1,"i":9,"b":0},{"phase":"Allu","t":14.25,"i":351,"b":0},{"phase":"Allu","t":15.6,"i":3,"b":0},{"phase":"Rein","t":16.35,"i":122,"b":0},{"phase":"Rein","t":16.6,"i":149,"b":0},{"phase":"C3A","t":17.4,"i":14,"b":0},{"phase":"Rein","t":19.0,"i":3,"b":0},{"phase":"Rein","t":20.2,"i":9,"b":0},{"phase":"C3A","t":20.9,"i":3,"b":0},
{"phase":"Allu","t":23.1,"i":95,"b":60},{"phase":"Allu","t":26.6,"i":103,"b":66},{"phase":"Rein","t":29.4,"i":106,"b":67},{"phase":"Rein","t":30.5,"i":80,"b":63},{"phase":"Rein","t":31.2,"i":72,"b":60},{"phase":"Allu","t":31.8,"i":66,"b":58},{"phase":"Lime","t":32.3,"i":77,"b":57},{"phase":"Allu","t":32.8,"i":72,"b":54},{"phase":"C3A","t":33.1,"i":86,"b":53},{"phase":"Allu","t":33.6,"i":66,"b":51},{"phase":"Allu","t":34.1,"i":60,"b":50},{"phase":"Rein","t":35.3,"i":62,"b":48},{"phase":"Rein","t":36.0,"i":58,"b":46},{"phase":"Lime","t":37.4,"i":398,"b":45},{"phase":"Rein","t":46.5,"i":50,"b":42},{"phase":"Rein","t":47.4,"i":48,"b":40},{"phase":"Lime","t":53.9,"i":160,"b":34},{"phase":"Lime","t":64.2,"i":45,"b":33},{"phase":"Lime","t":67.4,"i":40,"b":27},{"phase":"Lime","t":79.7,"i":30,"b":25}
],
"markers":[
{"phase":"Lime","t":37.45,"i":398},{"phase":"Rein","t":29.4,"i":107},{"phase":"C3A","t":33.1,"i":91},{"phase":"Allu","t":33.25,"i":89}
],
"pct":[
{"phase":"Lime","t":37.45,"i":405,"label":"18.4%"},{"phase":"Rein","t":29.42,"i":114,"label":"16.0%"},{"phase":"C3A","t":33.1,"i":100.5,"label":"52.3%"},{"phase":"Allu","t":33.3,"i":94.5,"label":"13.3%"}
],
"phases":[
{"phase":"C3A","t":41.1,"i":372.5,"label":"Ca₃Al₂O₆"},
{"phase":"Lime","t":41.05,"i":361,"label":"Lime ● CaO"},
{"phase":"Rein","t":41.1,"i":349.8,"label":"Reinhardbraunsite ● Ca₅Si₂O₁₀H₂"},
{"phase":"Allu","t":41.1,"i":338.4,"label":"Alluaudite ● Na₁.₇₀₂Fe₃P₃O₁₂"}
],
"pieTop":[
{"phase":"C3A","t":79.61,"i":261},{"phase":"Lime","t":79.61,"i":261},{"phase":"Rein","t":79.61,"i":261},{"phase":"Allu","t":79.61,"i":261}
],
"pieSide":[
{"phase":"C3A","t":79.61,"i":256.3},{"phase":"Lime","t":79.61,"i":256.3},{"phase":"Rein","t":79.61,"i":256.3},{"phase":"Allu","t":79.61,"i":256.3},
{"phase":"C3A","t":79.61,"i":251.7},{"phase":"Lime","t":79.61,"i":251.7},{"phase":"Rein","t":79.61,"i":251.7},{"phase":"Allu","t":79.61,"i":251.7}
],
"pieLabels":[
{"phase":"C3A","t":78.22,"i":284.3,"label":"52.3%"},{"phase":"Lime","t":76.83,"i":244.8,"label":"18.4%"},{"phase":"Rein","t":80.46,"i":240.1,"label":"16.0%"},{"phase":"Allu","t":83.63,"i":251.2,"label":"13.3%"}
],
"rdots":[
{"t":60.6,"i":258},{"t":61.6,"i":258},{"t":62.6,"i":258},{"t":63.6,"i":258},{"t":64.6,"i":258},{"t":65.6,"i":258.4},{"t":66.6,"i":258},{"t":67.6,"i":257.9},{"t":68.6,"i":257.8},{"t":69.6,"i":257.6},{"t":70.6,"i":257.5},{"t":71.6,"i":257.5},{"t":72.6,"i":257.5},{"t":73.6,"i":257.6},{"t":74.6,"i":257.8},{"t":75.6,"i":257.6},{"t":76.6,"i":257.6},{"t":77.6,"i":257.6},{"t":78.6,"i":257.6},{"t":79.6,"i":257.6},{"t":80.6,"i":257.4}
],
"iters":[
{"t":62.62,"i":297.1,"label":"2=26.4%"},{"t":66.64,"i":287.8,"label":"3=26.3%"},{"t":71.66,"i":277.3,"label":"4=26.2%"}
],
"igrid":[{"t":64.71},{"t":68.57},{"t":73.59}],
"bandlines":[{"i":403},{"i":384}]
},
"layer":[
{"data":{"values":[{}]},"mark":{"type":"rect","fill":{"gradient":"linear","x1":0,"y1":0,"x2":0,"y2":1,"stops":[{"offset":0,"color":"#fcf9f9"},{"offset":0.35,"color":"#f6f3f3"},{"offset":1,"color":"#d9d9d9"}]}},
 "encoding":{"x":{"datum":-6.42,"type":"quantitative"},"x2":{"datum":84.8},"y":{"datum":462,"type":"quantitative"},"y2":{"datum":-37.2}}},
{"data":{"values":[{}]},"mark":{"type":"rule","color":"#4a4a4a","strokeWidth":2},
 "encoding":{"x":{"datum":-7.27,"type":"quantitative"},"y":{"datum":462,"type":"quantitative"},"y2":{"datum":-41}}},
{"data":{"values":[{}]},"mark":{"type":"rect","fill":{"gradient":"linear","x1":0,"y1":0,"x2":0,"y2":1,"stops":[{"offset":0,"color":"#fbf4f4"},{"offset":0.45,"color":"#f2eeee"},{"offset":0.75,"color":"#e6e5e7"},{"offset":0.92,"color":"#ececee"},{"offset":1,"color":"#f6f6f6"}]}},
 "encoding":{"x":{"datum":2,"type":"quantitative"},"x2":{"datum":80},"y":{"datum":450,"type":"quantitative"},"y2":{"datum":0}}},
{"data":{"values":[{}]},"mark":{"type":"rect","color":"#eddcdc","opacity":0.6},
 "encoding":{"x":{"datum":2,"type":"quantitative"},"x2":{"datum":80},"y":{"datum":403,"type":"quantitative"},"y2":{"datum":384}}},
{"data":{"name":"bandlines"},"mark":{"type":"rule","color":"#a8a0a0","strokeDash":[5,3],"strokeWidth":1},
 "encoding":{"x":{"datum":2,"type":"quantitative"},"x2":{"datum":80},"y":{"field":"i","type":"quantitative"}}},
{"data":{"values":[{}]},"mark":{"type":"rule","color":"#d89a9a","strokeWidth":1},
 "encoding":{"x":{"datum":21,"type":"quantitative"},"x2":{"datum":80},"y":{"datum":393.5,"type":"quantitative"}}},
{"data":{"name":"obs"},"transform":[{"filter":"datum.t <= 14.2"}],
 "mark":{"type":"area","opacity":0.9,"fill":{"gradient":"linear","x1":0,"y1":0,"x2":0,"y2":1,"stops":[{"offset":0,"color":"#4f4f78"},{"offset":0.45,"color":"#9a9ab4"},{"offset":1,"color":"#ececf0"}]}},
 "encoding":{"x":{"field":"t","type":"quantitative"},"y":{"field":"i","type":"quantitative"}}},
{"data":{"values":[{}]},"mark":{"type":"rect","opacity":0.85,"fill":{"gradient":"linear","x1":0,"y1":0,"x2":0,"y2":1,"stops":[{"offset":0,"color":"#f0b4a0"},{"offset":1,"color":"#fbe4dc"}]}},
 "encoding":{"x":{"datum":16.65,"type":"quantitative"},"x2":{"datum":20.95},"y":{"datum":68,"type":"quantitative"},"y2":{"datum":0}}},
{"data":{"name":"bg"},"mark":{"type":"line","color":"#6a6a6a","strokeDash":[4,3],"strokeWidth":1.3},
 "encoding":{"x":{"field":"t","type":"quantitative"},"y":{"field":"i","type":"quantitative"}}},
{"data":{"name":"sticks"},"mark":{"type":"rule","strokeWidth":2,"opacity":0.9},
 "encoding":{"x":{"field":"t","type":"quantitative"},"y":{"field":"i","type":"quantitative"},"y2":{"field":"b"},
 "color":{"field":"phase","type":"nominal","scale":{"domain":["C3A","Lime","Rein","Allu"],"range":["#2424e0","#2a7a2a","#ee2020","#e020e0"]},"legend":null}}},
{"data":{"name":"obs"},"mark":{"type":"line","color":"#1b1b4b","strokeWidth":1.4},
 "encoding":{"x":{"field":"t","type":"quantitative","scale":{"domain":[2,80],"nice":false,"zero":false},
 "axis":{"zindex":1,"title":"Two-Theta (deg)","values":[2,4,6,8,10,12,14,16,18,20,22,24,26,28,30,32,34,36,38,40,42,44,46,48,50,52,54,56,58,60,62,64,66,68,70,72,74,76,78,80],"tickCount":100,
 "labelExpr":"datum.value % 10 === 0 ? datum.label : ''","labelOverlap":false,"labelBound":false,"labelFlush":false,"tickSize":5,"tickColor":"#9a9a9a","domainColor":"#a8a8a8","labelColor":"#8a8a8a","labelFontSize":14,"labelFontStyle":"italic","labelPadding":1,"titleFontSize":15,"titleFontStyle":"italic","titleFontWeight":"normal","titleColor":"#555555","titlePadding":6}},
 "y":{"field":"i","type":"quantitative","scale":{"domain":[0,450],"nice":false,"zero":false},
 "axis":{"zindex":1,"title":"Intensity (Counts)","values":[0,50,100,150,200,250,300,350,400,450],"tickCount":50,"labelOverlap":false,"tickSize":6,"tickColor":"#9a9a9a","domainColor":"#a8a8a8","labelColor":"#8a8a8a","labelFontSize":14,"labelFontStyle":"italic","labelPadding":2,"titleFontSize":15,"titleFontStyle":"italic","titleFontWeight":"normal","titleColor":"#555555","titlePadding":12}}}},
{"data":{"name":"calc"},"mark":{"type":"line","color":"#e038e0","strokeWidth":1.6,"opacity":0.9},
 "encoding":{"x":{"field":"t","type":"quantitative"},"y":{"field":"i","type":"quantitative"}}},
{"data":{"name":"diff"},"mark":{"type":"line","color":"#b66a6a","strokeWidth":1},
 "encoding":{"x":{"field":"t","type":"quantitative"},"y":{"field":"i","type":"quantitative"}}},
{"data":{"name":"markers"},"mark":{"type":"circle","size":45,"opacity":1},
 "encoding":{"x":{"field":"t","type":"quantitative"},"y":{"field":"i","type":"quantitative"},
 "color":{"field":"phase","type":"nominal","scale":{"domain":["C3A","Lime","Rein","Allu"],"range":["#2424e0","#2a7a2a","#ee2020","#e020e0"]},"legend":null}}},
{"data":{"name":"pct"},"mark":{"type":"text","fontSize":13,"fontStyle":"italic","opacity":0.8,"align":"center","baseline":"middle"},
 "encoding":{"x":{"field":"t","type":"quantitative"},"y":{"field":"i","type":"quantitative"},"text":{"field":"label"},
 "color":{"field":"phase","type":"nominal","scale":{"domain":["C3A","Lime","Rein","Allu"],"range":["#2424e0","#2a7a2a","#ee2020","#e020e0"]},"legend":null}}},
{"data":{"name":"phases"},"mark":{"type":"text","fontSize":15.5,"fontStyle":"italic","align":"center","baseline":"middle"},
 "encoding":{"x":{"field":"t","type":"quantitative"},"y":{"field":"i","type":"quantitative"},"text":{"field":"label"},
 "color":{"field":"phase","type":"nominal","scale":{"domain":["C3A","Lime","Rein","Allu"],"range":["#2424e0","#2a7a2a","#ee2020","#e020e0"]},"legend":null}}},
{"data":{"values":[{}]},"mark":{"type":"rect","color":"#888888","opacity":0.35},
 "encoding":{"x":{"datum":59.3,"type":"quantitative"},"x2":{"datum":85.5},"y":{"datum":315.1,"type":"quantitative"},"y2":{"datum":157.0}}},
{"data":{"values":[{}]},"mark":{"type":"rect","stroke":"#c4c4d4","strokeWidth":1,"fill":{"gradient":"linear","x1":0,"y1":0,"x2":0,"y2":1,"stops":[{"offset":0,"color":"#f8f8fc"},{"offset":1,"color":"#d4d4ee"}]}},
 "encoding":{"x":{"datum":58.99,"type":"quantitative"},"x2":{"datum":85.2},"y":{"datum":317.4,"type":"quantitative"},"y2":{"datum":159.3}}},
{"data":{"name":"igrid"},"mark":{"type":"rule","color":"#ffffff","strokeWidth":1.2},
 "encoding":{"x":{"field":"t","type":"quantitative"},"y":{"datum":304.7,"type":"quantitative"},"y2":{"datum":173.8}}},
{"data":{"values":[{}]},"mark":{"type":"rule","color":"#777777","strokeWidth":1},
 "encoding":{"x":{"datum":60.61,"type":"quantitative"},"y":{"datum":309.3,"type":"quantitative"},"y2":{"datum":170.9}}},
{"data":{"values":[{}]},"mark":{"type":"rule","color":"#777777","strokeWidth":1},
 "encoding":{"x":{"datum":60.23,"type":"quantitative"},"x2":{"datum":84.8},"y":{"datum":173.8,"type":"quantitative"}}},
{"data":{"values":[{}]},"mark":{"type":"rule","color":"#8aa08a","strokeWidth":1,"strokeDash":[4,3]},
 "encoding":{"x":{"datum":60.61,"type":"quantitative"},"x2":{"datum":84.8},"y":{"datum":216.9,"type":"quantitative"}}},
{"data":{"name":"pieSide"},"mark":{"type":"point","filled":true,"size":26896,"opacity":1},
 "encoding":{"x":{"field":"t","type":"quantitative"},"y":{"field":"i","type":"quantitative"},
 "color":{"field":"phase","type":"nominal","scale":{"domain":["C3A","Lime","Rein","Allu"],"range":["#2424e0","#2a7a2a","#ee2020","#e020e0"]},"legend":null},
 "shape":{"field":"phase","type":"nominal","scale":{"domain":["C3A","Lime","Rein","Allu"],"range":["M0 0 L-0.9895 0.0915 A1 0.634 0 1 1 1 0 Z","M0 0 L-0.2672 0.6109 A1 0.634 0 0 1 -0.9895 0.0915 Z","M0 0 L0.6704 0.4704 A1 0.634 0 0 1 -0.2672 0.6109 Z","M0 0 L1 0 A1 0.634 0 0 1 0.6704 0.4704 Z"]},"legend":null}}},
{"data":{"name":"pieTop"},"mark":{"type":"point","filled":true,"size":26896,"opacity":1,"stroke":"#ffffff","strokeWidth":0.8,"strokeOpacity":0.6},
 "encoding":{"x":{"field":"t","type":"quantitative"},"y":{"field":"i","type":"quantitative"},
 "fill":{"field":"phase","type":"nominal","scale":{"domain":["C3A","Lime","Rein","Allu"],"range":["#7070f4","#78ac78","#f47e7e","#f4a2f4"]},"legend":null},
 "shape":{"field":"phase","type":"nominal","scale":{"domain":["C3A","Lime","Rein","Allu"],"range":["M0 0 L-0.9895 0.0915 A1 0.634 0 1 1 1 0 Z","M0 0 L-0.2672 0.6109 A1 0.634 0 0 1 -0.9895 0.0915 Z","M0 0 L0.6704 0.4704 A1 0.634 0 0 1 -0.2672 0.6109 Z","M0 0 L1 0 A1 0.634 0 0 1 0.6704 0.4704 Z"]},"legend":null}}},
{"data":{"name":"pieLabels"},"mark":{"type":"text","fontSize":13,"fontStyle":"italic","align":"center","baseline":"middle","opacity":0.85},
 "encoding":{"x":{"field":"t","type":"quantitative"},"y":{"field":"i","type":"quantitative"},"text":{"field":"label"},
 "color":{"field":"phase","type":"nominal","scale":{"domain":["C3A","Lime","Rein","Allu"],"range":["#2424e0","#2a7a2a","#ee2020","#e020e0"]},"legend":null}}},
{"data":{"name":"rdots"},"mark":{"type":"line","color":"#e060d0","strokeDash":[4,2],"strokeWidth":1.5},
 "encoding":{"x":{"field":"t","type":"quantitative"},"y":{"field":"i","type":"quantitative"}}},
{"data":{"name":"rdots"},"mark":{"type":"circle","size":30,"color":"#7a4c7a","opacity":1},
 "encoding":{"x":{"field":"t","type":"quantitative"},"y":{"field":"i","type":"quantitative"}}},
{"data":{"name":"iters"},"mark":{"type":"text","fontSize":14,"align":"left","baseline":"middle","color":"#5f78d8"},
 "encoding":{"x":{"field":"t","type":"quantitative"},"y":{"field":"i","type":"quantitative"},"text":{"field":"label"}}},
{"data":{"values":[{}]},"mark":{"type":"text","fontSize":13,"align":"left","baseline":"middle","color":"#777777","text":"R=26.4%"},
 "encoding":{"x":{"datum":59.53,"type":"quantitative"},"y":{"datum":311.6,"type":"quantitative"}}},
{"data":{"values":[{}]},"mark":{"type":"text","fontSize":15,"align":"left","baseline":"middle","color":"#9a1a7a","text":"R=26.09"},
 "encoding":{"x":{"datum":80.92,"type":"quantitative"},"y":{"datum":255.8,"type":"quantitative"}}},
{"data":{"values":[{}]},"mark":{"type":"text","fontSize":15,"align":"left","baseline":"middle","color":"#3b8f3b","text":"E=13.64"},
 "encoding":{"x":{"datum":80.38,"type":"quantitative"},"y":{"datum":210.5,"type":"quantitative"}}},
{"data":{"values":[{}]},"mark":{"type":"text","fontSize":14,"align":"center","baseline":"middle","color":"#888888","text":"Refinement Halted (R/E=2.05)"},
 "encoding":{"x":{"datum":74.13,"type":"quantitative"},"y":{"datum":166.9,"type":"quantitative"}}},
{"data":{"values":[{}]},"mark":{"type":"circle","size":150,"color":"#8d9af8","opacity":0.45},
 "encoding":{"x":{"datum":81.08,"type":"quantitative"},"y":{"datum":166.9,"type":"quantitative"}}},
{"data":{"values":[{}]},"mark":{"type":"circle","size":50,"color":"#4a5cf0","opacity":1},
 "encoding":{"x":{"datum":81.08,"type":"quantitative"},"y":{"datum":166.9,"type":"quantitative"}}}
]
}
